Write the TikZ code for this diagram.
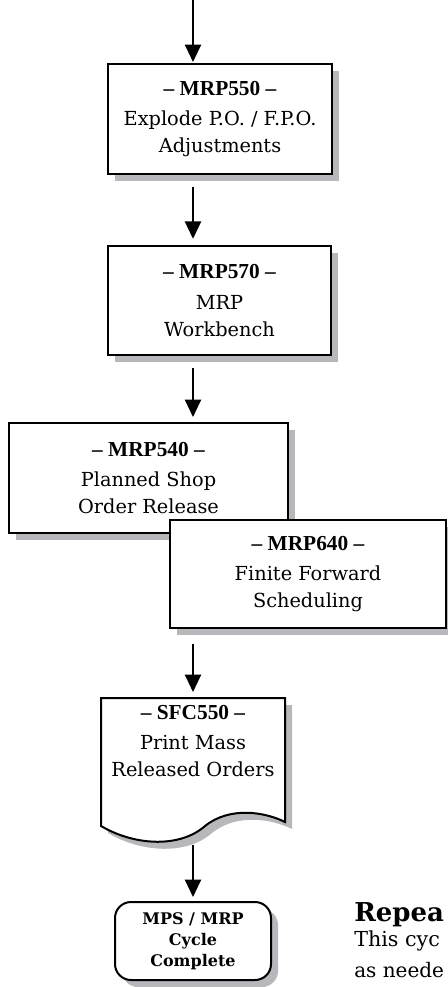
\documentclass[tikz,border=0pt]{standalone}
\usepackage{fontspec}
\setmainfont{DejaVu Serif}
\newfontfamily\titlefont{Liberation Serif}
\usetikzlibrary{positioning,shadows,arrows.meta}

\definecolor{shadowgray}{RGB}{183,183,188}
\newcommand{\progtitle}[1]{{\titlefont\fontsize{16}{20}\bfseries – #1 –}}
\newcommand{\docpath}{(101,698) -- (285,698) -- (285,822) .. controls (265,812) and (230,806) .. (205,826) .. controls (180,848) and (135,846) .. (101,826) -- cycle}

\begin{document}
\begin{tikzpicture}[x=0.75pt, y=-0.75pt,
        font=\fontsize{14.5}{20}\selectfont,
        stepbox/.style={draw, line width=1.5pt, fill=white, align=center, inner sep=0pt,
            drop shadow={shadow xshift=5.25pt, shadow yshift=-5.25pt, fill=shadowgray, opacity=1}},
        flow/.style={line width=1.6pt, -{Triangle[width=12pt, length=13pt]}, shorten <=9pt, shorten >=4.5pt}]

    \useasboundingbox (0,0) rectangle (447,987);
    \coordinate (axis) at (193,0);

    \node (m550) [stepbox, minimum width=168pt, minimum height=82.5pt] at (220,119)
        {\progtitle{MRP550}\\[3pt]Explode P.O. / F.P.O.\\Adjustments};
    \node (m570) [stepbox, minimum width=167pt, minimum height=82pt] at (219.5,300.5)
        {\progtitle{MRP570}\\[3pt]MRP\\Workbench};
    \node (m540) [stepbox, minimum width=209pt, minimum height=82.5pt] at (148.5,478)
        {\progtitle{MRP540}\\[3pt]Planned Shop\\Order Release};
    \node (m640) [stepbox, minimum width=207pt, minimum height=81pt] at (308,574)
        {\progtitle{MRP640}\\[3pt]Finite Forward\\Scheduling};

    % printed report
    \fill[shadowgray, shift={(7,7)}] \docpath;
    \draw[line width=1.5pt, fill=white] \docpath;
    \coordinate (s550top) at (193,698);
    \coordinate (s550end) at (193,838);
    \node (s550) [align=center, inner sep=0pt] at (193,741)
        {\progtitle{SFC550}\\[3pt]Print Mass\\Released Orders};

    \node (done) [stepbox, rounded corners=12pt, minimum width=117pt, minimum height=58.5pt,
        font=\fontsize{12}{15.75}\bfseries] at (193,941) {MPS / MRP\\Cycle\\Complete};

    \draw[flow, shorten <=0pt, shorten >=0.75pt] (axis) -- (m550.north -| axis);
    \draw[flow] (m550.south -| axis) -- (m570.north -| axis);
    \draw[flow, shorten >=3.75pt] (m570.south -| axis) -- (m540.north -| axis);
    \draw[flow, shorten <=11pt] (m640.south -| axis) -- (s550top);
    \draw[flow, shorten <=5.25pt, shorten >=3pt] (s550end) -- (done.north -| axis);

    \node (rep) [anchor=base west, inner sep=0pt, font=\fontsize{19.5}{22}\bfseries] at (354,921) {Repea};
    \node (cyc1) [anchor=base west, inner sep=0pt, font=\fontsize{15.5}{20}\selectfont] at (354,946) {This cyc};
    \node (cyc2) [anchor=base west, inner sep=0pt, font=\fontsize{15}{20}\selectfont] at (354,977) {as neede};
\end{tikzpicture}
\end{document}
